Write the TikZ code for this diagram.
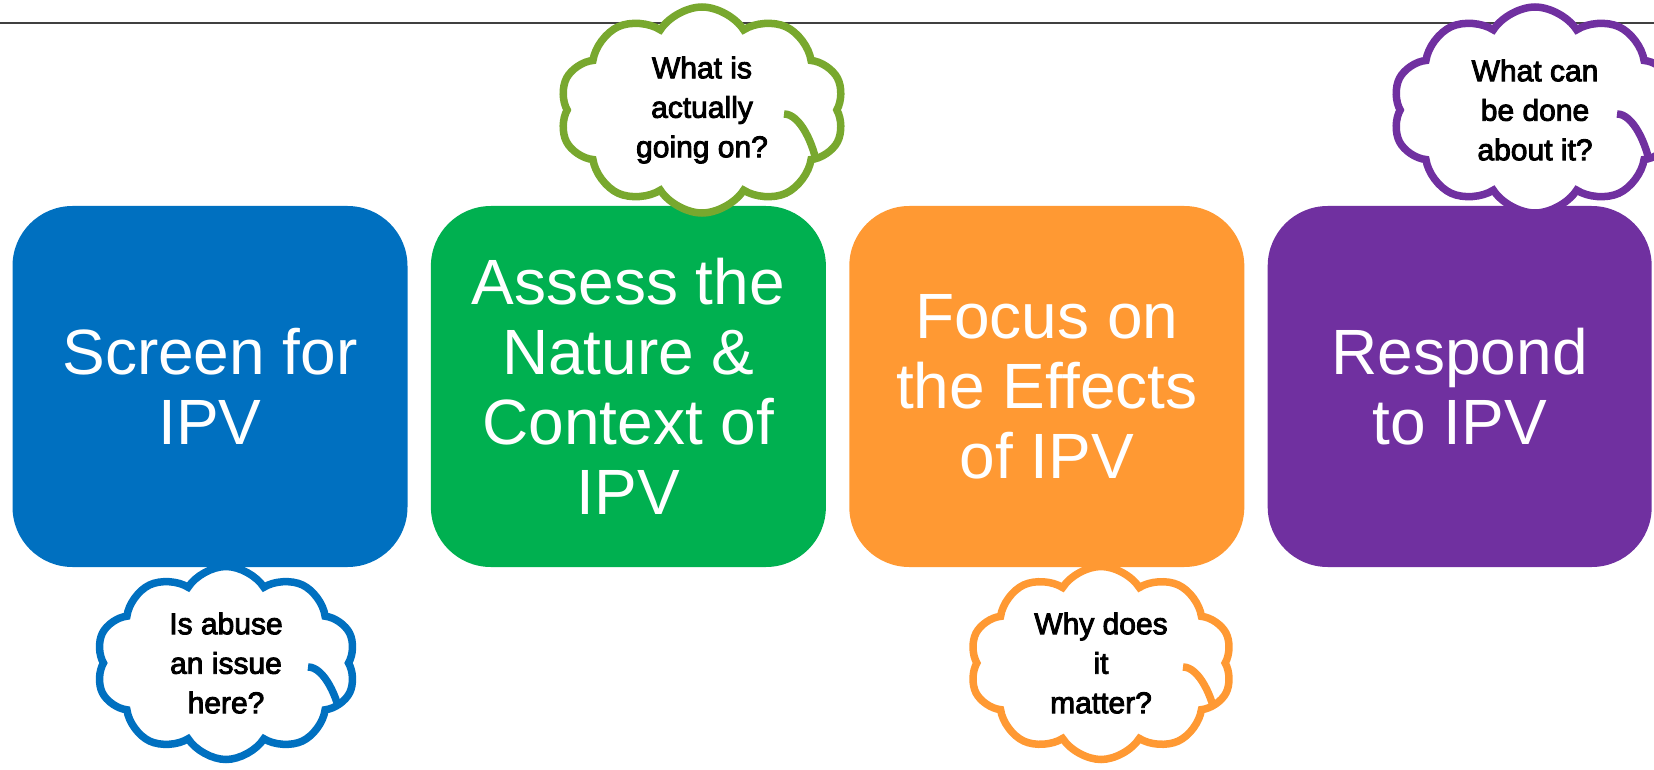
\documentclass[tikz,border=0pt]{standalone}
\usepackage{fontspec}
\setmainfont{Liberation Sans}
\newfontfamily\cloudfont[FakeBold=3]{Liberation Sans}
\usetikzlibrary{positioning,shapes.symbols}
\definecolor{ipvblue}{HTML}{0070C0}
\definecolor{ipvgreen}{HTML}{00B050}
\definecolor{ipvolive}{HTML}{78A82E}
\definecolor{ipvorange}{HTML}{FF9933}
\definecolor{ipvpurple}{HTML}{7030A0}
\definecolor{rulegray}{HTML}{404040}

\begin{document}
\begin{tikzpicture}[
x=1pt, y=-1pt,
stage/.style={
  rectangle,
  rounded corners=60pt,
  minimum width=395pt,
  minimum height=361pt,
  inner sep=0pt,
  align=center,
  text=white,
  font=\fontsize{64}{70}\selectfont
  },
thought/.style={
  cloud,
  cloud puffs=10,
  cloud puff arc=115,
  cloud ignores aspect,
  draw=#1,
  line width=7.5pt,
  fill=white,
  align=center,
  inner sep=0pt,
  font=\cloudfont\fontsize{30}{39.5}\selectfont,
  path picture={
    \draw[#1, line width=7.5pt]
      ([shift={(82,4)}]path picture bounding box.center)
      .. controls +(16,0) and +(-4,-26) .. ([shift={(116,60)}]path picture bounding box.center);
    }
  },
node distance=23pt
]
\useasboundingbox (0,0) rectangle (1654,770);
\coordinate (ruleL) at (0,23);
\coordinate (ruleR) at (1654,23);
\draw[rulegray, line width=2.5pt] (ruleL) -- (ruleR);
% the four stages
\node[stage, fill=ipvblue] (screen) at (210,386.5) {Screen for\\IPV};
\node[stage, fill=ipvgreen, right=of screen] (assess) {Assess the\\Nature \&\\Context of\\IPV};
\node[stage, fill=ipvorange, right=of assess] (effects) {Focus on\\the Effects\\of IPV};
\node[stage, fill=ipvpurple, minimum width=384pt, right=of effects] (respond) {Respond\\to IPV};
% the questions
\node[thought=ipvolive, minimum width=285pt, minimum height=206pt] (actual) at (702,110) {What is\\actually\\going on?};
\node[thought=ipvpurple, minimum width=285pt, minimum height=206pt] (done) at (1535,110) {What can\\be done\\about it?};
\node[thought=ipvblue, minimum width=260pt, minimum height=193pt] (issue) at (226,663) {Is abuse\\an issue\\here?};
\node[thought=ipvorange, minimum width=263pt, minimum height=193pt] (matter) at (1101,663) {Why does\\it\\matter?};
\end{tikzpicture}
\end{document}
